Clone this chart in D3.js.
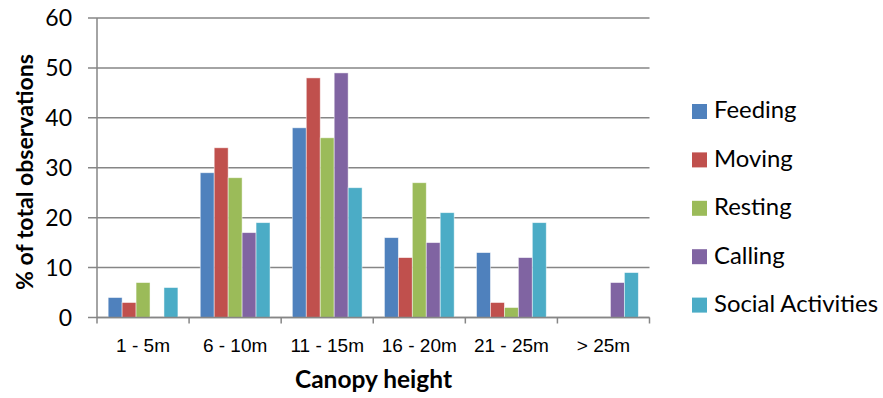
<!DOCTYPE html>
<html>
<head>
<meta charset="utf-8">
<script src="https://cdn.jsdelivr.net/npm/d3@7"></script>
<style>
  html, body { margin: 0; padding: 0; background: #fff; }
  svg { display: block; font-family: Lato, "Liberation Sans", sans-serif; }
</style>
</head>
<body>
<svg id="chart" width="883" height="398"></svg>
<script>
// Canopy height classes and the share of observations per activity
const categories = ["1 - 5m", "6 - 10m", "11 - 15m", "16 - 20m", "21 - 25m", "> 25m"];
const seriesNames = ["Feeding", "Moving", "Resting", "Calling", "Social Activities"];
const feeding = [4, 29, 38, 16, 13, 0];
const moving = [3, 34, 48, 12, 3, 0];
const resting = [7, 28, 36, 27, 2, 0];
const calling = [0, 17, 49, 15, 12, 7];
const social = [6, 19, 26, 21, 19, 9];
const yTicks = [0, 10, 20, 30, 40, 50, 60];
const colors = ["#4F81BD", "#C0504D", "#9BBB59", "#8064A2", "#4BACC6"];

const seriesValues = [feeding, moving, resting, calling, social];

const svg = d3.select("#chart");
const W = 883, H = 398;
const margin = { left: 97, right: 233.5, top: 18, bottom: 80.5 };
const x0 = margin.left, x1 = W - margin.right;
const y0 = H - margin.bottom, y1 = margin.top;

const x = d3.scaleBand().domain(categories).range([x0, x1]).paddingInner(0).paddingOuter(0);
const xs = d3.scaleBand().domain(seriesNames).range([0, x.bandwidth()]).paddingOuter(0.8).paddingInner(0);
const y = d3.scaleLinear().domain([0, 60]).range([y0, y1]);

const gridColor = "#868686";

// stretch a group of text runs by one common factor so the widest run spans `width`
function fitWidest(sel, width) {
  let widest = 0;
  sel.each(function () { widest = Math.max(widest, this.getComputedTextLength()); });
  const k = width / widest;
  sel.each(function () {
    d3.select(this)
      .attr("textLength", this.getComputedTextLength() * k)
      .attr("lengthAdjust", "spacingAndGlyphs");
  });
}

// horizontal gridlines, extended left past the axis as tick marks
svg.append("g").selectAll("line").data(yTicks).join("line")
  .attr("x1", x0 - 9).attr("x2", x1)
  .attr("y1", d => y(d)).attr("y2", d => y(d))
  .attr("stroke", gridColor).attr("stroke-width", 1.5);

// y tick labels
svg.append("g").selectAll("text").data(yTicks).join("text")
  .attr("x", x0 - 25).attr("y", d => y(d))
  .attr("dy", "0.36em")
  .attr("text-anchor", "end")
  .attr("font-size", 23)
  .attr("fill", "#000")
  .text(d => d);

// bars
const groups = svg.append("g").selectAll("g").data(categories).join("g")
  .attr("transform", c => `translate(${x(c)},0)`);
groups.selectAll("rect")
  .data((c, i) => seriesNames.map((s, j) => ({ s, v: seriesValues[j][i], j })))
  .join("rect")
  .attr("x", d => xs(d.s))
  .attr("width", xs.bandwidth())
  .attr("y", d => y(d.v))
  .attr("height", d => y(0) - y(d.v))
  .attr("fill", d => colors[d.j])
  .attr("stroke", d => d.v > 0 ? "rgba(255,255,255,0.6)" : "none")
  .attr("stroke-width", 0.8);

// y axis line
svg.append("line")
  .attr("x1", x0).attr("x2", x0).attr("y1", y1).attr("y2", y0)
  .attr("stroke", gridColor).attr("stroke-width", 1.5);

// x axis line and category boundary ticks
svg.append("line")
  .attr("x1", x0).attr("x2", x1).attr("y1", y0).attr("y2", y0)
  .attr("stroke", gridColor).attr("stroke-width", 1.5);
const bounds = categories.map(c => x(c)).concat([x1]);
svg.append("g").selectAll("line").data(bounds).join("line")
  .attr("x1", d => d).attr("x2", d => d)
  .attr("y1", y0).attr("y2", y0 + 6)
  .attr("stroke", gridColor).attr("stroke-width", 1.5);

// x tick labels
svg.append("g").selectAll("text").data(categories).join("text")
  .attr("x", c => x(c) + x.bandwidth() / 2)
  .attr("y", 352)
  .attr("text-anchor", "middle")
  .attr("font-family", "'Liberation Sans', Arial, sans-serif")
  .attr("font-size", 19)
  .attr("fill", "#000")
  .text(c => c);

// axis titles
svg.append("text")
  .attr("x", 373.5).attr("y", 388)
  .attr("text-anchor", "middle")
  .attr("font-size", 24).attr("font-weight", "bold")
  .text("Canopy height")
  .call(fitWidest, 157);

svg.append("text")
  .attr("transform", `translate(33, 172) rotate(-90)`)
  .attr("text-anchor", "middle")
  .attr("font-size", 22).attr("font-weight", "bold")
  .text("% of total observations")
  .call(fitWidest, 236);

// legend
const legend = svg.append("g").selectAll("g").data(seriesNames).join("g")
  .attr("transform", (d, i) => `translate(692, ${111.5 + i * 48.4})`);
legend.append("rect")
  .attr("x", 0).attr("y", -7.5).attr("width", 15).attr("height", 15)
  .attr("fill", (d, i) => colors[i]);
legend.append("text")
  .attr("x", 22).attr("y", 0).attr("dy", "0.3em")
  .attr("font-size", 23)
  .attr("fill", "#000")
  .text(d => d)
  .call(fitWidest, 164);
</script>
</body>
</html>
